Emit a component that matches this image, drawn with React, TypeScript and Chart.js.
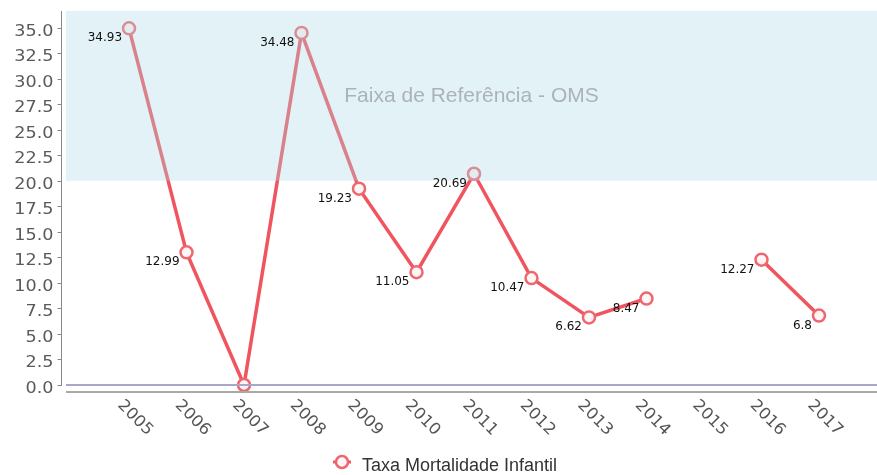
import React, { useEffect, useRef } from "react";
import { Chart, registerables } from "chart.js";

Chart.register(...registerables);

// ---- data ----
const years = [2005, 2006, 2007, 2008, 2009, 2010, 2011, 2012, 2013, 2014, 2015, 2016, 2017];
const rates: (number | null)[] = [34.93, 12.99, 0, 34.48, 19.23, 11.05, 20.69, 10.47, 6.62, 8.47, null, 12.27, 6.8];
const yTicks = [0, 2.5, 5, 7.5, 10, 12.5, 15, 17.5, 20, 22.5, 25, 27.5, 30, 32.5, 35];
const seriesName = "Taxa Mortalidade Infantil";
const bandLabel = "Faixa de Referência - OMS";
const bandFrom = 20;

// ---- layout ----
const W = 877;
const H = 475;
const X_MIN = 2003.904;
const X_MAX = 2018.009;
const Y_MAX = 36.63;

const LINE_COLOR = "#f0555f";
const POINT_BORDER = "#ee6670";
const POINT_FILL = "#fff5f5";

const customPlugin = {
  id: "customDraw",
  beforeDraw(chart: any) {
    const ctx = chart.ctx;
    ctx.save();
    ctx.fillStyle = "#ffffff";
    ctx.fillRect(0, 0, chart.width, chart.height);
    ctx.restore();
  },
  afterDatasetsDraw(chart: any) {
    const ctx: CanvasRenderingContext2D = chart.ctx;
    const ca = chart.chartArea;
    const xs = chart.scales.x;
    const ys = chart.scales.y;
    ctx.save();

    // reference band (drawn over the series, translucent)
    const yb = ys.getPixelForValue(bandFrom);
    ctx.fillStyle = "rgba(173,216,230,0.34)";
    ctx.fillRect(ca.left, ca.top, ca.right - ca.left, yb - ca.top);

    ctx.fillStyle = "#aab3b8";
    ctx.font = '21px "Liberation Sans", Arial, sans-serif';
    ctx.textAlign = "center";
    ctx.textBaseline = "middle";
    ctx.fillText(bandLabel, (ca.left + ca.right) / 2, (ca.top + yb) / 2);

    // zero line + x axis line
    const y0 = ys.getPixelForValue(0);
    ctx.lineWidth = 2;
    ctx.strokeStyle = "#a8a8c8";
    ctx.beginPath();
    ctx.moveTo(ca.left, y0);
    ctx.lineTo(ca.right, y0);
    ctx.stroke();
    ctx.strokeStyle = "#a9a9a9";
    ctx.beginPath();
    ctx.moveTo(ca.left, y0 + 7);
    ctx.lineTo(ca.right, y0 + 7);
    ctx.stroke();

    // y axis
    const ax = ca.left - 4.5;
    ctx.lineWidth = 1;
    ctx.strokeStyle = "#888888";
    ctx.beginPath();
    ctx.moveTo(ax, ca.top);
    ctx.lineTo(ax, y0 + 1);
    ctx.stroke();
    ctx.font = '16px "DejaVu Sans", Verdana, sans-serif';
    ctx.fillStyle = "#5a5a5a";
    ctx.textAlign = "right";
    ctx.textBaseline = "alphabetic";
    for (const v of yTicks) {
      const py = Math.round(ys.getPixelForValue(v)) + 0.5;
      ctx.beginPath();
      ctx.moveTo(ax - 4, py);
      ctx.lineTo(ax, py);
      ctx.stroke();
      ctx.save();
      ctx.translate(ax - 8, py + 7);
      ctx.scale(1.1, 1);
      ctx.fillText(v.toFixed(1), 0, 0);
      ctx.restore();
    }

    // x labels rotated 45deg clockwise
    ctx.textAlign = "center";
    ctx.textBaseline = "middle";
    ctx.fillStyle = "#555555";
    ctx.font = '16px "DejaVu Sans", Verdana, sans-serif';
    for (const yr of years) {
      const px = xs.getPixelForValue(yr);
      ctx.save();
      ctx.translate(px + 6, 418);
      ctx.rotate(Math.PI / 4);
      ctx.scale(1.05, 1);
      ctx.fillText(String(yr), 0, 0);
      ctx.restore();
    }

    // data labels
    ctx.font = '12px "DejaVu Sans", Verdana, sans-serif';
    ctx.fillStyle = "#111111";
    ctx.textAlign = "right";
    ctx.textBaseline = "alphabetic";
    years.forEach((yr, i) => {
      const v = rates[i];
      if (v === null || v === 0) return;
      const px = xs.getPixelForValue(yr);
      const py = ys.getPixelForValue(v);
      ctx.fillText(String(v), px - 7, py + 13);
    });

    // legend
    const ly = 462;
    ctx.lineWidth = 3;
    ctx.strokeStyle = LINE_COLOR;
    ctx.beginPath();
    ctx.moveTo(333, ly);
    ctx.lineTo(351, ly);
    ctx.stroke();
    ctx.beginPath();
    ctx.arc(342, ly, 6, 0, Math.PI * 2);
    ctx.fillStyle = POINT_FILL;
    ctx.fill();
    ctx.lineWidth = 2.5;
    ctx.strokeStyle = POINT_BORDER;
    ctx.stroke();
    ctx.fillStyle = "#333333";
    ctx.font = '18px "Liberation Sans", Arial, sans-serif';
    ctx.textAlign = "left";
    ctx.textBaseline = "alphabetic";
    ctx.fillText(seriesName, 362, 471);

    ctx.restore();
  },
};

export default function App() {
  const ref = useRef<HTMLCanvasElement | null>(null);

  useEffect(() => {
    document.body.style.margin = "0";
    const canvas = ref.current;
    if (!canvas) return;
    const chart = new Chart(canvas, {
      type: "line",
      data: {
        datasets: [
          {
            label: seriesName,
            data: years.map((yr, i) => ({ x: yr, y: rates[i] })) as any,
            borderColor: LINE_COLOR,
            borderWidth: 3.5,
            pointRadius: 6,
            pointBorderWidth: 2.5,
            pointBackgroundColor: POINT_FILL,
            pointBorderColor: POINT_BORDER,
            spanGaps: false,
            tension: 0,
            clip: 12 as any,
          },
        ],
      },
      options: {
        animation: false,
        responsive: false,
        maintainAspectRatio: false,
        layout: { autoPadding: false, padding: { top: 11, left: 0, right: 0, bottom: 0 } },
        plugins: { legend: { display: false }, tooltip: { enabled: false } },
        scales: {
          x: {
            type: "linear",
            min: X_MIN,
            max: X_MAX,
            ticks: { display: false },
            grid: { display: false },
            border: { display: false },
            afterFit: (s: any) => {
              s.height = 90;
            },
          },
          y: {
            min: 0,
            max: Y_MAX,
            ticks: { display: false },
            grid: { display: false },
            border: { display: false },
            afterFit: (s: any) => {
              s.width = 66;
            },
          },
        },
      },
      plugins: [customPlugin],
    });
    return () => chart.destroy();
  }, []);

  return <canvas ref={ref} width={W} height={H} style={{ display: "block" }} />;
}
